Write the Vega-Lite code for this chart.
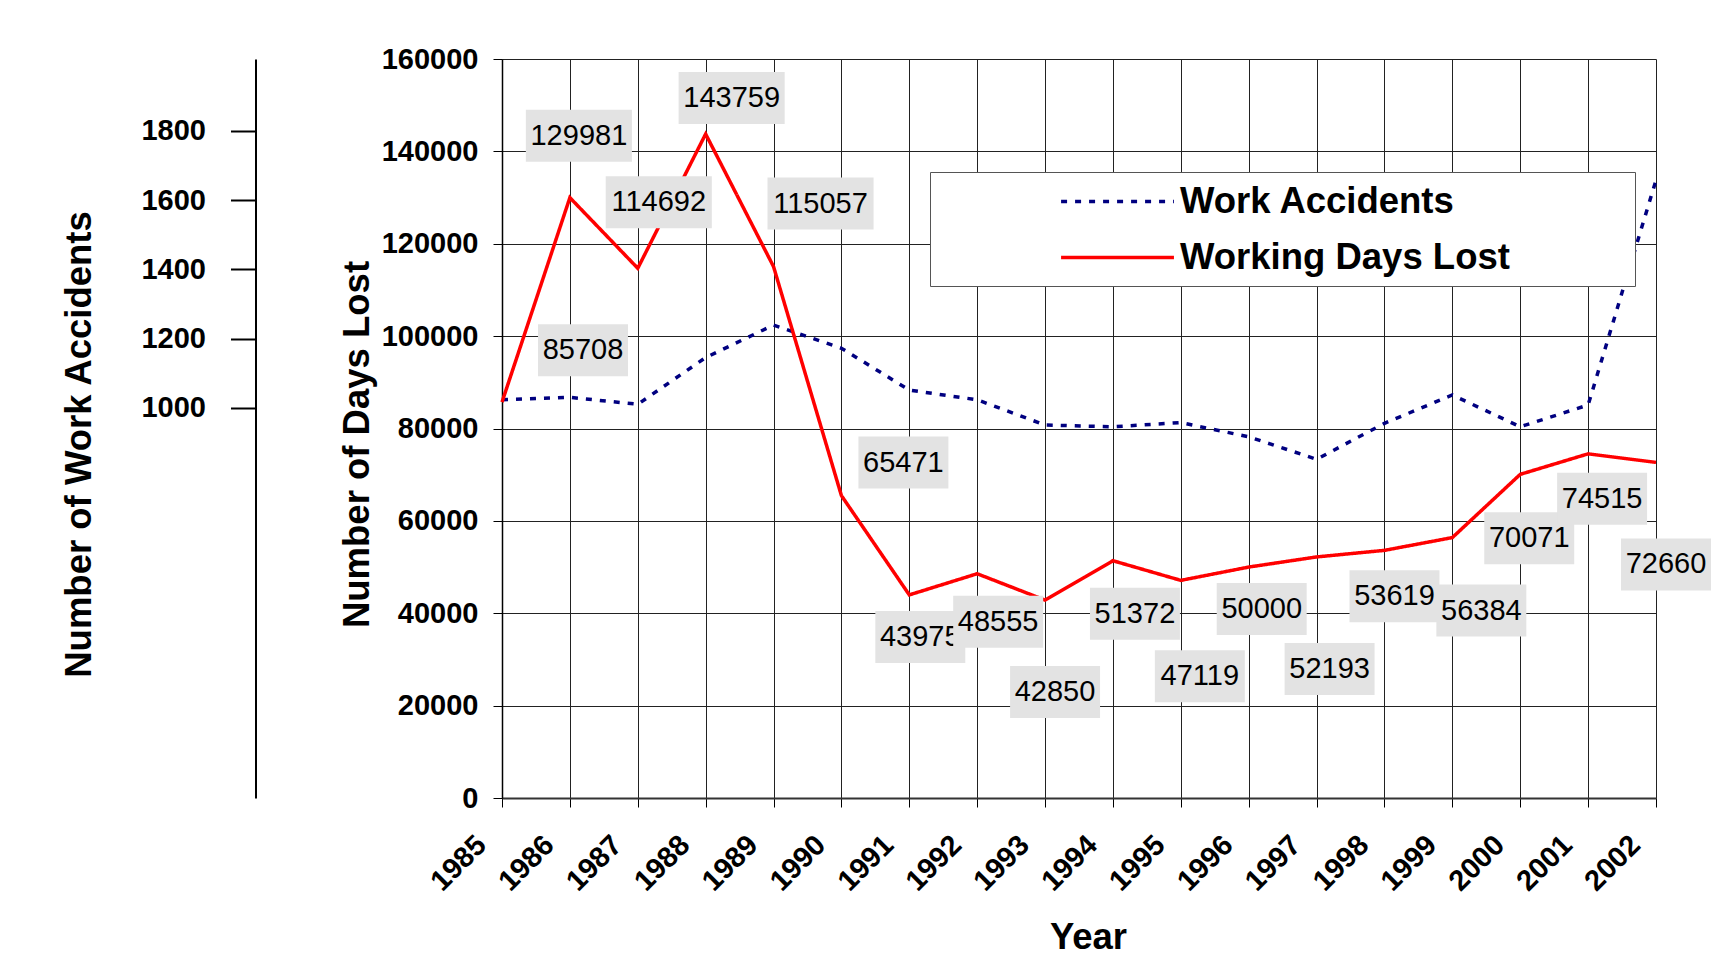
{
  "$schema": "https://vega.github.io/schema/vega-lite/v6.json",
  "width": 1154,
  "height": 739,
  "autosize": {"type": "none"},
  "padding": {"left": 502, "top": 59, "right": 68, "bottom": 173},
  "background": "white",
  "config": {
    "view": {"stroke": null},
    "font": "Liberation Sans",
    "axis": {"labelFont": "Liberation Sans", "titleFont": "Liberation Sans", "labelColor": "black", "titleColor": "black"},
    "text": {"font": "Liberation Sans"}
  },
  "data": {
    "values": [
      {"year": 1985, "accidents": 1023, "days": 85708},
      {"year": 1986, "accidents": 1030, "days": 129981},
      {"year": 1987, "accidents": 1010, "days": 114692},
      {"year": 1988, "accidents": 1145, "days": 143759},
      {"year": 1989, "accidents": 1239, "days": 115057},
      {"year": 1990, "accidents": 1172, "days": 65471},
      {"year": 1991, "accidents": 1051, "days": 43975},
      {"year": 1992, "accidents": 1023, "days": 48555},
      {"year": 1993, "accidents": 950, "days": 42850},
      {"year": 1994, "accidents": 945, "days": 51372},
      {"year": 1995, "accidents": 957, "days": 47119},
      {"year": 1996, "accidents": 916, "days": 50000},
      {"year": 1997, "accidents": 851, "days": 52193},
      {"year": 1998, "accidents": 955, "days": 53619},
      {"year": 1999, "accidents": 1037, "days": 56384},
      {"year": 2000, "accidents": 945, "days": 70071},
      {"year": 2001, "accidents": 1008, "days": 74515},
      {"year": 2002, "accidents": 1658, "days": 72660}
    ]
  },
  "encoding": {
    "x": {
      "field": "year", "type": "quantitative",
      "scale": {"domain": [1985, 2002], "nice": false, "zero": false},
      "axis": {
        "values": [1985,1986,1987,1988,1989,1990,1991,1992,1993,1994,1995,1996,1997,1998,1999,2000,2001,2002],
        "format": "d", "labelAngle": -45, "labelAlign": "right", "labelBaseline": "middle",
        "labelFontSize": 29, "labelFontWeight": "bold", "labelPadding": 33, "labelOffset": -21,
        "labelFlush": false, "labelOverlap": false,
        "tickSize": 9, "tickColor": "black", "domainColor": "#333", "domainWidth": 2,
        "grid": true, "gridColor": "#222", "gridWidth": 1, "gridOpacity": 1,
        "title": "Year", "titleFontSize": 36.5, "titleFontWeight": "bold",
        "titleX": 586, "titleY": 150, "titleBaseline": "alphabetic", "titleAlign": "center"
      }
    }
  },
  "layer": [
    {
      "mark": {"type": "line", "strokeWidth": 3.5, "strokeCap": "butt"},
      "encoding": {
        "y": {
          "field": "accidents", "type": "quantitative",
          "scale": {"domain": [-128, 2008], "nice": false, "zero": false},
          "axis": {
            "orient": "left", "offset": 246.5, "values": [1000, 1200, 1400, 1600, 1800], "format": "d",
            "grid": false, "tickSize": 25, "tickWidth": 2, "tickColor": "black",
            "domainColor": "black", "domainWidth": 2, "labelPadding": 25,
            "labelFontSize": 29, "labelFontWeight": "bold",
            "title": "Number of Work Accidents", "titleFontSize": 36.5, "titleFontWeight": "bold",
            "titleAngle": -90, "titleX": -165, "titleY": 385, "titleBaseline": "alphabetic", "titleAlign": "center"
          }
        },
        "color": {
          "datum": "Work Accidents", "type": "nominal",
          "scale": {"domain": ["Work Accidents", "Working Days Lost"], "range": ["#000080", "#ff0000"]},
          "legend": {"orient": "none", "legendX": 428, "legendY": 113, "title": null, "padding": 10, "fillColor": "white", "strokeColor": "#555", "symbolType": "M-5.51,0H0.94M26.27,0", "symbolSize": 1225, "symbolStrokeWidth": 3.5, "symbolOffset": 198, "labelOffset": 3, "labelFontSize": 36.5, "labelFontWeight": "bold", "labelFont": "Liberation Sans", "labelColor": "black", "labelLimit": 0, "rowPadding": 18}
        },
        "strokeDash": {
          "datum": "Work Accidents", "type": "nominal",
          "scale": {"domain": ["Work Accidents", "Working Days Lost"], "range": [[6, 8], [1, 0]]},
          "legend": {"orient": "none", "legendX": 428, "legendY": 113, "title": null, "padding": 10, "fillColor": "white", "strokeColor": "#555", "symbolType": "M-5.51,0H0.94M26.27,0", "symbolSize": 1225, "symbolStrokeWidth": 3.5, "symbolOffset": 198, "labelOffset": 3, "labelFontSize": 36.5, "labelFontWeight": "bold", "labelFont": "Liberation Sans", "labelColor": "black", "labelLimit": 0, "rowPadding": 18}
        }
      }
    },
    {
      "encoding": {
        "y": {
          "field": "days", "type": "quantitative",
          "scale": {"domain": [0, 160000], "nice": false},
          "axis": {
            "orient": "left", "values": [0, 20000, 40000, 60000, 80000, 100000, 120000, 140000, 160000], "format": "d",
            "grid": true, "gridColor": "#222", "gridWidth": 1, "gridOpacity": 1,
            "tickSize": 9, "tickColor": "black", "domainColor": "black", "domainWidth": 1.5,
            "labelPadding": 15, "labelFontSize": 29, "labelFontWeight": "bold",
            "title": "Number of Days Lost", "titleFontSize": 36.5, "titleFontWeight": "bold",
            "titleAngle": -90, "titleX": -134, "titleY": 385, "titleBaseline": "alphabetic", "titleAlign": "center"
          }
        }
      },
      "layer": [
        {
          "mark": {"type": "line", "strokeWidth": 3.5},
          "encoding": {
            "color": {"datum": "Working Days Lost", "type": "nominal"},
            "strokeDash": {"datum": "Working Days Lost", "type": "nominal"}
          }
        },
        {"transform": [{"filter": "datum.year == 1985"}], "layer": [
          {"mark": {"type": "point", "shape": "M-1.73,-1H1.73V1H-1.73Z", "size": 2704, "filled": true, "color": "#e3e3e3", "opacity": 1, "strokeWidth": 0, "xOffset": 81, "yOffset": -52}},
          {"mark": {"type": "text", "dx": 81, "dy": -52, "fontSize": 29, "color": "black", "align": "center", "baseline": "middle"}, "encoding": {"text": {"field": "days", "type": "quantitative", "format": "d"}}}]},
        {"transform": [{"filter": "datum.year == 1986"}], "layer": [
          {"mark": {"type": "point", "shape": "M-2.04,-1H2.04V1H-2.04Z", "size": 2704, "filled": true, "color": "#e3e3e3", "opacity": 1, "strokeWidth": 0, "xOffset": 9, "yOffset": -62}},
          {"mark": {"type": "text", "dx": 9, "dy": -62, "fontSize": 29, "color": "black", "align": "center", "baseline": "middle"}, "encoding": {"text": {"field": "days", "type": "quantitative", "format": "d"}}}]},
        {"transform": [{"filter": "datum.year == 1987"}], "layer": [
          {"mark": {"type": "point", "shape": "M-2.04,-1H2.04V1H-2.04Z", "size": 2704, "filled": true, "color": "#e3e3e3", "opacity": 1, "strokeWidth": 0, "xOffset": 21, "yOffset": -66}},
          {"mark": {"type": "text", "dx": 21, "dy": -66, "fontSize": 29, "color": "black", "align": "center", "baseline": "middle"}, "encoding": {"text": {"field": "days", "type": "quantitative", "format": "d"}}}]},
        {"transform": [{"filter": "datum.year == 1988"}], "layer": [
          {"mark": {"type": "point", "shape": "M-2.04,-1H2.04V1H-2.04Z", "size": 2704, "filled": true, "color": "#e3e3e3", "opacity": 1, "strokeWidth": 0, "xOffset": 26, "yOffset": -36}},
          {"mark": {"type": "text", "dx": 26, "dy": -36, "fontSize": 29, "color": "black", "align": "center", "baseline": "middle"}, "encoding": {"text": {"field": "days", "type": "quantitative", "format": "d"}}}]},
        {"transform": [{"filter": "datum.year == 1989"}], "layer": [
          {"mark": {"type": "point", "shape": "M-2.04,-1H2.04V1H-2.04Z", "size": 2704, "filled": true, "color": "#e3e3e3", "opacity": 1, "strokeWidth": 0, "xOffset": 47, "yOffset": -63}},
          {"mark": {"type": "text", "dx": 47, "dy": -63, "fontSize": 29, "color": "black", "align": "center", "baseline": "middle"}, "encoding": {"text": {"field": "days", "type": "quantitative", "format": "d"}}}]},
        {"transform": [{"filter": "datum.year == 1990"}], "layer": [
          {"mark": {"type": "point", "shape": "M-1.73,-1H1.73V1H-1.73Z", "size": 2704, "filled": true, "color": "#e3e3e3", "opacity": 1, "strokeWidth": 0, "xOffset": 62, "yOffset": -33}},
          {"mark": {"type": "text", "dx": 62, "dy": -33, "fontSize": 29, "color": "black", "align": "center", "baseline": "middle"}, "encoding": {"text": {"field": "days", "type": "quantitative", "format": "d"}}}]},
        {"transform": [{"filter": "datum.year == 1991"}], "layer": [
          {"mark": {"type": "point", "shape": "M-1.73,-1H1.73V1H-1.73Z", "size": 2704, "filled": true, "color": "#e3e3e3", "opacity": 1, "strokeWidth": 0, "xOffset": 11, "yOffset": 42}},
          {"mark": {"type": "text", "dx": 11, "dy": 42, "fontSize": 29, "color": "black", "align": "center", "baseline": "middle"}, "encoding": {"text": {"field": "days", "type": "quantitative", "format": "d"}}}]},
        {"transform": [{"filter": "datum.year == 1992"}], "layer": [
          {"mark": {"type": "point", "shape": "M-1.73,-1H1.73V1H-1.73Z", "size": 2704, "filled": true, "color": "#e3e3e3", "opacity": 1, "strokeWidth": 0, "xOffset": 21, "yOffset": 48}},
          {"mark": {"type": "text", "dx": 21, "dy": 48, "fontSize": 29, "color": "black", "align": "center", "baseline": "middle"}, "encoding": {"text": {"field": "days", "type": "quantitative", "format": "d"}}}]},
        {"transform": [{"filter": "datum.year == 1993"}], "layer": [
          {"mark": {"type": "point", "shape": "M-1.73,-1H1.73V1H-1.73Z", "size": 2704, "filled": true, "color": "#e3e3e3", "opacity": 1, "strokeWidth": 0, "xOffset": 10, "yOffset": 92}},
          {"mark": {"type": "text", "dx": 10, "dy": 92, "fontSize": 29, "color": "black", "align": "center", "baseline": "middle"}, "encoding": {"text": {"field": "days", "type": "quantitative", "format": "d"}}}]},
        {"transform": [{"filter": "datum.year == 1994"}], "layer": [
          {"mark": {"type": "point", "shape": "M-1.73,-1H1.73V1H-1.73Z", "size": 2704, "filled": true, "color": "#e3e3e3", "opacity": 1, "strokeWidth": 0, "xOffset": 22, "yOffset": 53}},
          {"mark": {"type": "text", "dx": 22, "dy": 53, "fontSize": 29, "color": "black", "align": "center", "baseline": "middle"}, "encoding": {"text": {"field": "days", "type": "quantitative", "format": "d"}}}]},
        {"transform": [{"filter": "datum.year == 1995"}], "layer": [
          {"mark": {"type": "point", "shape": "M-1.73,-1H1.73V1H-1.73Z", "size": 2704, "filled": true, "color": "#e3e3e3", "opacity": 1, "strokeWidth": 0, "xOffset": 19, "yOffset": 96}},
          {"mark": {"type": "text", "dx": 19, "dy": 96, "fontSize": 29, "color": "black", "align": "center", "baseline": "middle"}, "encoding": {"text": {"field": "days", "type": "quantitative", "format": "d"}}}]},
        {"transform": [{"filter": "datum.year == 1996"}], "layer": [
          {"mark": {"type": "point", "shape": "M-1.73,-1H1.73V1H-1.73Z", "size": 2704, "filled": true, "color": "#e3e3e3", "opacity": 1, "strokeWidth": 0, "xOffset": 13, "yOffset": 42}},
          {"mark": {"type": "text", "dx": 13, "dy": 42, "fontSize": 29, "color": "black", "align": "center", "baseline": "middle"}, "encoding": {"text": {"field": "days", "type": "quantitative", "format": "d"}}}]},
        {"transform": [{"filter": "datum.year == 1997"}], "layer": [
          {"mark": {"type": "point", "shape": "M-1.73,-1H1.73V1H-1.73Z", "size": 2704, "filled": true, "color": "#e3e3e3", "opacity": 1, "strokeWidth": 0, "xOffset": 13, "yOffset": 112}},
          {"mark": {"type": "text", "dx": 13, "dy": 112, "fontSize": 29, "color": "black", "align": "center", "baseline": "middle"}, "encoding": {"text": {"field": "days", "type": "quantitative", "format": "d"}}}]},
        {"transform": [{"filter": "datum.year == 1998"}], "layer": [
          {"mark": {"type": "point", "shape": "M-1.73,-1H1.73V1H-1.73Z", "size": 2704, "filled": true, "color": "#e3e3e3", "opacity": 1, "strokeWidth": 0, "xOffset": 10, "yOffset": 46}},
          {"mark": {"type": "text", "dx": 10, "dy": 46, "fontSize": 29, "color": "black", "align": "center", "baseline": "middle"}, "encoding": {"text": {"field": "days", "type": "quantitative", "format": "d"}}}]},
        {"transform": [{"filter": "datum.year == 1999"}], "layer": [
          {"mark": {"type": "point", "shape": "M-1.73,-1H1.73V1H-1.73Z", "size": 2704, "filled": true, "color": "#e3e3e3", "opacity": 1, "strokeWidth": 0, "xOffset": 29, "yOffset": 73}},
          {"mark": {"type": "text", "dx": 29, "dy": 73, "fontSize": 29, "color": "black", "align": "center", "baseline": "middle"}, "encoding": {"text": {"field": "days", "type": "quantitative", "format": "d"}}}]},
        {"transform": [{"filter": "datum.year == 2000"}], "layer": [
          {"mark": {"type": "point", "shape": "M-1.73,-1H1.73V1H-1.73Z", "size": 2704, "filled": true, "color": "#e3e3e3", "opacity": 1, "strokeWidth": 0, "xOffset": 9, "yOffset": 64}},
          {"mark": {"type": "text", "dx": 9, "dy": 64, "fontSize": 29, "color": "black", "align": "center", "baseline": "middle"}, "encoding": {"text": {"field": "days", "type": "quantitative", "format": "d"}}}]},
        {"transform": [{"filter": "datum.year == 2001"}], "layer": [
          {"mark": {"type": "point", "shape": "M-1.73,-1H1.73V1H-1.73Z", "size": 2704, "filled": true, "color": "#e3e3e3", "opacity": 1, "strokeWidth": 0, "xOffset": 14, "yOffset": 45}},
          {"mark": {"type": "text", "dx": 14, "dy": 45, "fontSize": 29, "color": "black", "align": "center", "baseline": "middle"}, "encoding": {"text": {"field": "days", "type": "quantitative", "format": "d"}}}]},
        {"transform": [{"filter": "datum.year == 2002"}], "layer": [
          {"mark": {"type": "point", "shape": "M-1.73,-1H1.73V1H-1.73Z", "size": 2704, "filled": true, "color": "#e3e3e3", "opacity": 1, "strokeWidth": 0, "xOffset": 10, "yOffset": 102}},
          {"mark": {"type": "text", "dx": 10, "dy": 102, "fontSize": 29, "color": "black", "align": "center", "baseline": "middle"}, "encoding": {"text": {"field": "days", "type": "quantitative", "format": "d"}}}]}
      ]
    }
  ],
  "resolve": {"scale": {"y": "independent"}}
}
